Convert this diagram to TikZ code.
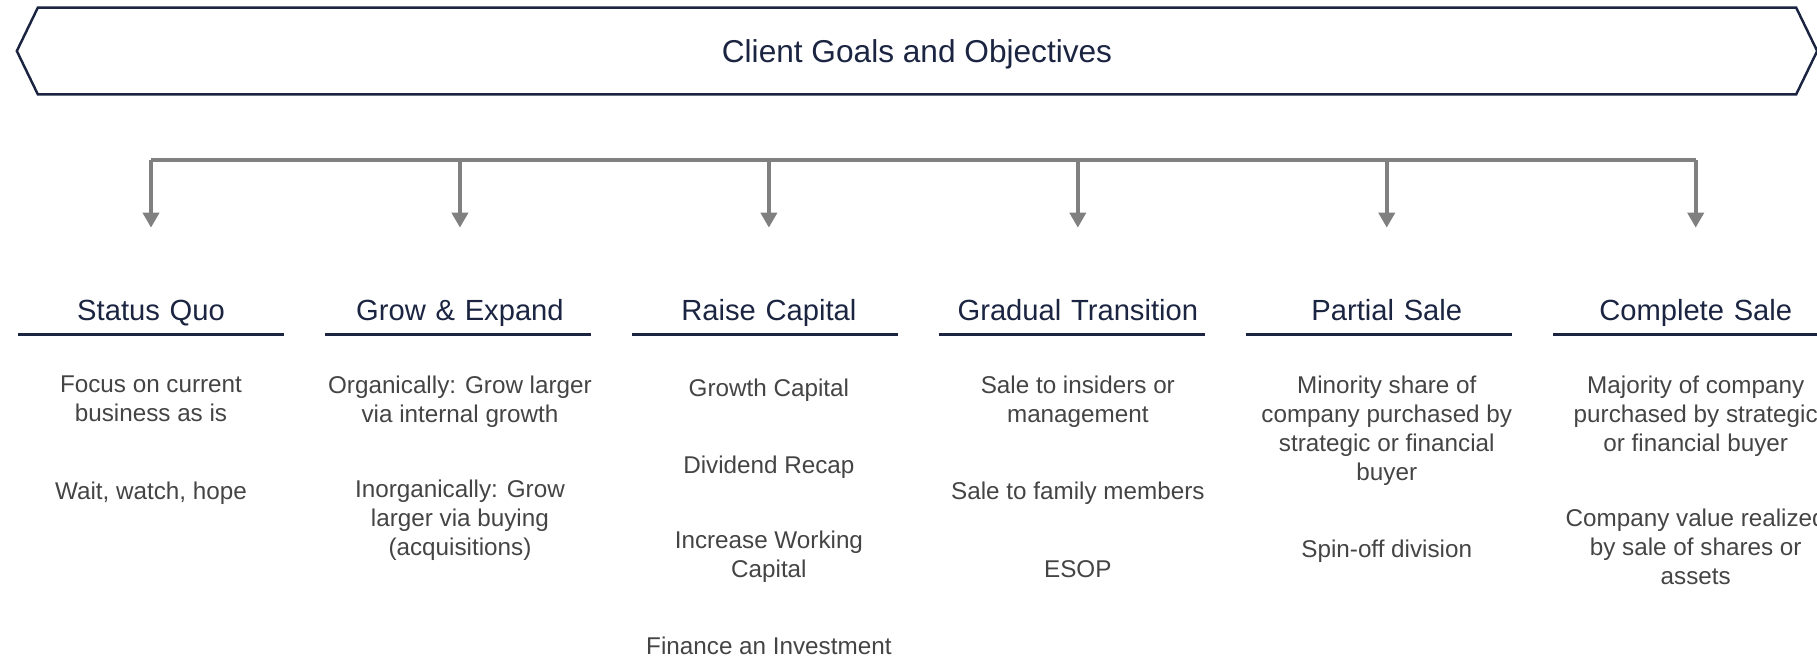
\documentclass[tikz,border=0pt]{standalone}
\usepackage{fontspec}
\setmainfont{Liberation Sans}
\usepackage{tikz}
\usetikzlibrary{positioning,arrows.meta}
\definecolor{navy}{HTML}{1B2541}
\definecolor{textgray}{HTML}{444444}
\definecolor{linegray}{HTML}{808080}
\tikzstyle{banner} = [draw=navy, line width=1.4pt, line join=miter]
\tikzstyle{title} = [text=navy, font=\fontsize{18}{21.6}\selectfont, minimum width=35.16cm, minimum height=1.72cm, text height=0.47cm, text depth=0cm]
\tikzstyle{head} = [text=navy, font=\fontsize{16.6}{20}\selectfont, text width=5.3cm, align=center, inner sep=0pt, text height=0.5cm, text depth=0.27cm]
\tikzstyle{rule} = [draw=navy, line width=2pt]
\tikzstyle{item} = [text=textgray, font=\fontsize{13.8}{16.5}\selectfont, align=center, inner sep=0pt, execute at begin node=\strut, execute at end node=\strut]
\tikzstyle{bar} = [draw=linegray, line width=2.2pt]
\tikzstyle{arrow} = [bar, -{Triangle[width=0.32cm,length=0.3cm]}, shorten >=1.35cm]

\begin{document}
\begin{tikzpicture}[x=0.02cm, y=-0.02cm, node distance=6.18cm]
		\useasboundingbox (0,0) rectangle (1817,656);
		
		\node (goals) [title] at (917,51) {Client Goals and Objectives};
		\draw [banner] (goals.north west) -- (goals.north east) -- ([xshift=0.42cm]goals.east) -- (goals.south east) -- (goals.south west) -- ([xshift=-0.42cm]goals.west) -- cycle;
		
		\node (status) [head] at (151,314.75) {Status Quo};
		\node (grow) [head, right of=status] {Grow \& Expand};
		\node (raise) [head, right of=grow] {Raise Capital};
		\node (gradual) [head, right of=raise] {Gradual Transition};
		\node (partial) [head, right of=gradual] {Partial Sale};
		\node (complete) [head, right of=partial] {Complete Sale};
		
		\coordinate (split) at (0,160);
		\draw [bar] (status |- split) -- (complete |- split);
		\foreach \c [count=\i from 0] in {status,grow,raise,gradual,partial,complete} {
			\draw [arrow] (\c |- split) -- (\c.north);
			\draw [rule] ([xshift=-\i*0.04cm]\c.south west) -- ([xshift=-\i*0.04cm]\c.south east);
		}
		
		\node (status1) [item, below=0.83cm of status] {Focus on current\\business as is};
		\node (status2) [item, below=0.95cm of status1] {Wait, watch, hope};
		
		\node (grow1) [item, below=0.83cm of grow] {Organically: Grow larger\\via internal growth};
		\node (grow2) [item, below=0.95cm of grow1] {Inorganically: Grow\\larger via buying\\(acquisitions)};
		
		\node (raise1) [item, below=0.83cm of raise] {Growth Capital};
		\node (raise2) [item, below=0.95cm of raise1] {Dividend Recap};
		\node (raise3) [item, below=0.95cm of raise2] {Increase Working\\Capital};
		\node (raise4) [item, below=0.95cm of raise3] {Finance an Investment};
		
		\node (gradual1) [item, below=0.83cm of gradual] {Sale to insiders or\\management};
		\node (gradual2) [item, below=0.95cm of gradual1] {Sale to family members};
		\node (gradual3) [item, below=0.95cm of gradual2] {ESOP};
		
		\node (partial1) [item, below=0.83cm of partial] {Minority share of\\company purchased by\\strategic or financial\\buyer};
		\node (partial2) [item, below=0.95cm of partial1] {Spin-off division};
		
		\node (complete1) [item, below=0.83cm of complete] {Majority of company\\purchased by strategic\\or financial buyer};
		\node (complete2) [item, below=0.95cm of complete1] {Company value realized\\by sale of shares or\\assets};
		
	\end{tikzpicture}
\end{document}
